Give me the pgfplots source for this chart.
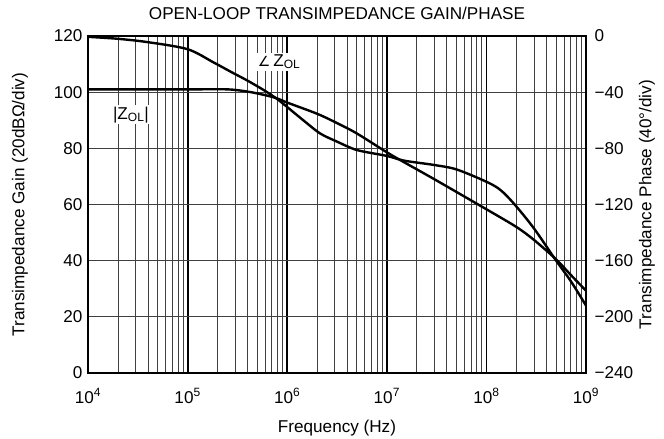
\documentclass[border=0pt]{standalone}
\usepackage{fontspec}
\setmainfont{Liberation Sans}
\newfontfamily\dejavu{DejaVu Sans}
\usepackage{pgfplots}
\pgfplotsset{compat=1.18}
\newcommand\F{\fontsize{17.2}{20}\selectfont}
\pgfplotstableread{
f g
1e4 101
1e5 101
2.5e5 101
4e5 100.2
5.9e5 99
7.9e5 97.8
1e6 96.3
2e6 92.3
3.16e6 89
5e6 85.3
1e7 78.6
1.5e7 75
3e7 69
1e8 58.3
2e8 52
3e8 47.4
5e8 40.5
7e8 35
1e9 29.3
}\gaintable
\pgfplotstableread{
f p
1e4 -0.6
2e4 -2
4e4 -4.4
1e5 -9.4
1.82e5 -18.8
2.8e5 -26
4e5 -31.8
5.9e5 -38.8
7.9e5 -44.8
1e6 -50.6
1.45e6 -60
2.14e6 -69.4
3.16e6 -75.2
5e6 -81.2
1e7 -85.4
1.5e7 -88.8
2.95e7 -91.8
5e7 -95
1e8 -103.8
1.38e8 -109.6
1.9e8 -119.6
3e8 -137
4.9e8 -159
7.1e8 -175
1e9 -192
}\phasetable
\begin{document}
\begin{tikzpicture}
\path[use as bounding box] (-88bp,-66bp) rectangle (576bp,373bp);
\begin{axis}[
  at={(0,0)}, anchor=south west,
  scale only axis, width=498bp, height=337bp,
  xmode=log, xmin=1e4, xmax=1e9, ymin=0, ymax=120,
  xtick={1e4,1e5,1e6,1e7,1e8,1e9},
  xticklabels={10\textsuperscript{4},10\textsuperscript{5},10\textsuperscript{6},10\textsuperscript{7},10\textsuperscript{8},10\textsuperscript{9}},
  minor xtick={2e4,3e4,4e4,5e4,6e4,7e4,8e4,9e4,2e5,3e5,4e5,5e5,6e5,7e5,8e5,9e5,2e6,3e6,4e6,5e6,6e6,7e6,8e6,9e6,2e7,3e7,4e7,5e7,6e7,7e7,8e7,9e7,2e8,3e8,4e8,5e8,6e8,7e8,8e8,9e8},
  ytick={0,20,40,60,80,100,120},
  yticklabels={0,20,40,60,80,100,120},
  yticklabel pos=left,
  xmajorgrids, xminorgrids, ymajorgrids,
  major x grid style={black, line width=1.8bp},
  minor x grid style={black!75, line width=0.8bp},
  major y grid style={black!75, line width=0.8bp},
  major tick length=0pt, minor tick length=0pt,
  axis line style={line width=2.2bp},
  ticklabel style={font=\F},
  xticklabel style={anchor=base, yshift=-30bp},
  yticklabel style={xshift=-2bp},
  xlabel={Frequency (Hz)},
  xlabel style={font=\F, at={(axis description cs:0.5,0)}, anchor=base, yshift=-59bp},
  ylabel={Transimpedance Gain (20dBΩ/div)},
  ylabel style={font=\F, at={(axis description cs:-0.1365,0.5)}, anchor=center},
  title={OPEN-LOOP TRANSIMPEDANCE GAIN/PHASE},
  title style={font=\F, at={(axis description cs:0.5,1)}, anchor=base, yshift=11bp},
]
\addplot[black, line width=2.4bp, smooth, tension=0.5] table[x=f, y=g] {\gaintable};
\node[font=\F, fill=white, inner sep=1.5bp] at (axis cs:2.7e4,92) {|Z\textsubscript{OL}|};
\node[font=\F, fill=white, inner sep=1.5bp] at (axis cs:8.3e5,110.8) {{\dejavu\fontsize{14}{16}\selectfont ∠}\,Z\textsubscript{OL}};
\end{axis}
\begin{axis}[
  at={(0,0)}, anchor=south west,
  scale only axis, width=498bp, height=337bp,
  xmode=log, xmin=1e4, xmax=1e9, ymin=-240, ymax=0,
  axis x line=none,
  axis y line*=right,
  axis line style={line width=2.2bp},
  ytick={0,-40,-80,-120,-160,-200,-240},
  yticklabels={0,−40,−80,−120,−160,−200,−240},
  major tick length=0pt,
  ticklabel style={font=\F},
  yticklabel style={anchor=west, xshift=5bp},
  ylabel={Transimpedance Phase (40°/div)},
  ylabel style={font=\F, at={(axis description cs:1.1225,0.5)}, anchor=center},
]
\addplot[black, line width=2.4bp, smooth, tension=0.5] table[x=f, y=p] {\phasetable};
\end{axis}
\end{tikzpicture}
\end{document}
